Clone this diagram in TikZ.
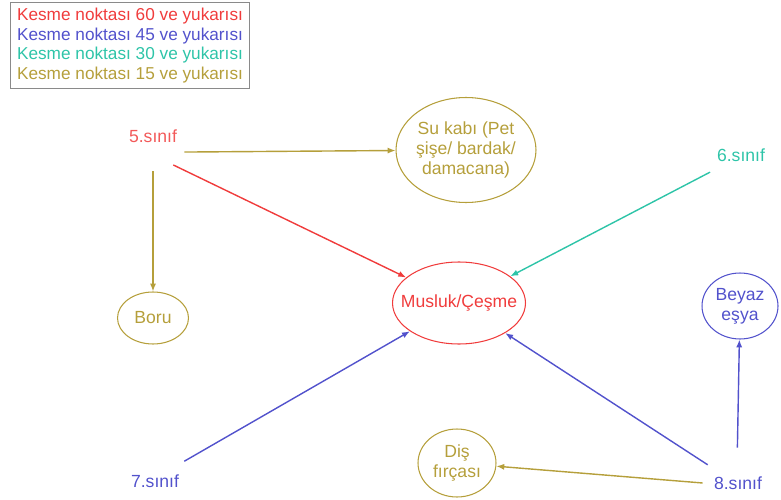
\documentclass[tikz,border=0pt]{standalone}
\usepackage{fontspec}
\setmainfont{Liberation Sans}
\usetikzlibrary{shapes.geometric,arrows.meta}
\definecolor{cutred}{HTML}{F03C3C}
\definecolor{cutblue}{HTML}{5252CC}
\definecolor{cutteal}{HTML}{2EC4A8}
\definecolor{cutolive}{HTML}{B59F3B}
\definecolor{boxgray}{HTML}{8A8A8A}

\begin{document}
\begin{tikzpicture}[
    x=0.02cm, y=-0.02cm,
    grade/.style  = {circle, minimum size=1.4cm, inner sep=0pt,
                     font=\fontsize{10}{11.5}\selectfont},
    item/.style   = {ellipse, draw, line width=0.6pt, inner sep=0pt,
                     align=center, font=\fontsize{10}{11.5}\selectfont},
    arrow/.style  = {-{Latex[length=4.5pt,width=3.5pt]}, line width=0.8pt},
]
  \useasboundingbox (0,0) rectangle (781,500);

  % legend
  \node[draw=boxgray, line width=0.6pt, anchor=north west, align=left,
        minimum width=4.78cm, minimum height=1.7cm,
        inner xsep=3pt, inner ysep=3pt,
        font=\fontsize{9.8}{11.3}\selectfont] (legend) at (10,2)
    {\textcolor{cutred}{Kesme noktası 60 ve yukarısı}\\
     \textcolor{cutblue}{Kesme noktası 45 ve yukarısı}\\
     \textcolor{cutteal}{Kesme noktası 30 ve yukarısı}\\
     \textcolor{cutolive}{Kesme noktası 15 ve yukarısı}};

  % grades
  \node[grade, text=cutred!85!white] (g5) at (153,136) {5.sınıf};
  \node[grade, text=cutteal] (g6) at (741,155) {6.sınıf};
  \node[grade, text=cutblue] (g7) at (155,481) {7.sınıf};
  \node[grade, text=cutblue] (g8) at (738,483) {8.sınıf};

  % items
  \node[item, draw=cutolive, text=cutolive, inner xsep=-8pt,
        minimum width=2.8cm, minimum height=2.1cm] (sukabi) at (466,150)
    {Su kabı (Pet\\şişe/ bardak/\\damacana)};
  \node[item, draw=cutred, text=cutred, inner xsep=-8pt,
        minimum width=2.66cm, minimum height=1.64cm] (musluk) at (459,303)
    {Musluk/Çeşme};
  \node[item, draw=cutolive, text=cutolive,
        minimum width=1.42cm, minimum height=1.04cm] (boru) at (153,318) {Boru};
  \node[item, draw=cutblue, text=cutblue,
        minimum width=1.52cm, minimum height=1.32cm] (beyaz) at (740,306)
    {Beyaz\\eşya};
  \node[item, draw=cutolive, text=cutolive,
        minimum width=1.56cm, minimum height=1.36cm] (firca) at (457,463)
    {Diş\\fırçası};

  % 5.sinif
  \draw[arrow, cutolive] (g5.-27) -- (sukabi);
  \draw[arrow, cutolive] (g5.-90) -- (boru);
  \draw[arrow, cutred] (g5.-55) -- (musluk);

  % 6. and 7.sinif
  \draw[arrow, cutteal] (g6.209) -- (musluk);
  \draw[arrow, cutblue] (g7.34) -- (musluk);

  % 8.sinif
  \draw[arrow, cutblue] (g8.149) -- (musluk);
  \draw[arrow, cutblue] (g8.91) -- (beyaz);
  \draw[arrow, cutolive] (g8.180) -- (firca);

\end{tikzpicture}
\end{document}
